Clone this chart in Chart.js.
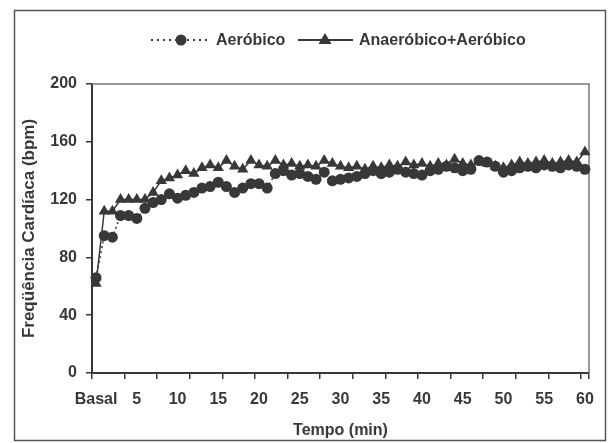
<!DOCTYPE html>
<html>
<head>
<meta charset="utf-8">
<script src="https://cdn.jsdelivr.net/npm/chart.js@4"></script>
<style>
body { margin: 0; background: #fff; }
#wrap { width: 611px; height: 443px; }
</style>
</head>
<body>
<div id="wrap"><canvas id="chart" width="611" height="443"></canvas></div>
<script>
// Categories: basal + minutes 1..60
const minutes = ['Basal',
  '1','2','3','4','5','6','7','8','9','10',
  '11','12','13','14','15','16','17','18','19','20',
  '21','22','23','24','25','26','27','28','29','30',
  '31','32','33','34','35','36','37','38','39','40',
  '41','42','43','44','45','46','47','48','49','50',
  '51','52','53','54','55','56','57','58','59','60'];

// Heart rate (bpm)
const aerobico = [66,
  95, 94, 109, 109, 107, 114, 118, 120, 124, 121,
  123, 125, 128, 129, 132, 129, 125, 128, 131, 131,
  128, 138, 140, 137, 138, 136, 134, 139, 133, 134,
  135, 136, 138, 140, 138, 139, 141, 139, 138, 137,
  140, 141, 143, 142, 140, 141, 147, 146, 143, 139,
  140, 142, 143, 142, 144, 143, 142, 144, 143, 141];

const anaerobicoAerobico = [62,
  112, 112, 120, 120, 120, 120, 125, 133, 135, 137,
  140, 138, 142, 144, 142, 147, 143, 141, 147, 144,
  143, 147, 144, 145, 143, 144, 143, 147, 145, 143,
  142, 143, 141, 143, 142, 144, 143, 146, 144, 145,
  143, 145, 144, 148, 145, 144, 146, 145, 143, 142,
  144, 146, 145, 146, 147, 145, 146, 147, 146, 153];

const yTicks = [0, 40, 80, 120, 160, 200];
// tick marks on the time axis fall every 4 categories (category boundaries)
const xTickMarks = [-0.5, 3.5, 7.5, 11.5, 15.5, 19.5, 23.5, 27.5, 31.5, 35.5, 39.5, 43.5, 47.5, 51.5, 55.5, 59.5, 60.5];

const ink = '#383838';
const fontFamily = '"Liberation Sans", Arial, sans-serif';

// White page with the printed frame around the figure
const framePlugin = {
    id: 'frame',
    beforeDraw(chart) {
        const ctx = chart.ctx;
        ctx.save();
        ctx.fillStyle = '#ffffff';
        ctx.fillRect(0, 0, chart.width, chart.height);
        ctx.strokeStyle = '#555';
        ctx.lineWidth = 1.5;
        ctx.strokeRect(14.5, 10.5, 591, 430);
        ctx.restore();
    },
    beforeDatasetsDraw(chart) {
        // top and right edges of the plot area
        const {ctx, chartArea: a} = chart;
        ctx.save();
        ctx.strokeStyle = '#777';
        ctx.lineWidth = 1.5;
        ctx.beginPath();
        ctx.moveTo(a.left, a.top);
        ctx.lineTo(a.right, a.top);
        ctx.lineTo(a.right, a.bottom);
        ctx.stroke();
        ctx.restore();
    }
};

// Legend with line sample + marker, like the original
const legendPlugin = {
    id: 'lineLegend',
    afterDraw(chart) {
        const ctx = chart.ctx;
        const y = 40;
        ctx.save();
        ctx.strokeStyle = ink;
        ctx.fillStyle = ink;
        ctx.lineWidth = 2;

        ctx.setLineDash([2, 4]);
        ctx.beginPath();
        ctx.moveTo(151, y);
        ctx.lineTo(208, y);
        ctx.stroke();
        ctx.setLineDash([]);
        ctx.beginPath();
        ctx.arc(181, y, 5.5, 0, Math.PI * 2);
        ctx.fill();

        ctx.beginPath();
        ctx.moveTo(298, y);
        ctx.lineTo(353, y);
        ctx.stroke();
        ctx.beginPath();
        ctx.moveTo(325, y - 7);
        ctx.lineTo(331.5, y + 4);
        ctx.lineTo(318.5, y + 4);
        ctx.closePath();
        ctx.fill();

        ctx.font = 'bold 16px ' + fontFamily;
        ctx.textBaseline = 'middle';
        ctx.textAlign = 'left';
        ctx.fillText('Aeróbico', 216, y + 1);
        ctx.fillText('Anaeróbico+Aeróbico', 359, y + 1);
        ctx.restore();
    }
};

const ctx = document.getElementById('chart').getContext('2d');
new Chart(ctx, {
    type: 'line',
    data: {
        labels: minutes,
        datasets: [
            {
                label: 'Aeróbico',
                data: aerobico,
                borderColor: ink,
                backgroundColor: ink,
                borderWidth: 1.5,
                borderDash: [2, 3],
                pointStyle: 'circle',
                pointRadius: 5.5,
                pointBorderWidth: 0,
                tension: 0
            },
            {
                label: 'Anaeróbico+Aeróbico',
                data: anaerobicoAerobico,
                borderColor: ink,
                backgroundColor: ink,
                borderWidth: 1.5,
                pointStyle: 'triangle',
                pointRadius: 6.5,
                pointBorderWidth: 0,
                tension: 0
            }
        ]
    },
    options: {
        responsive: false,
        animation: false,
        devicePixelRatio: 1,
        layout: { padding: { top: 84, right: 13, left: 0, bottom: 0 } },
        plugins: {
            legend: { display: false },
            tooltip: { enabled: false }
        },
        scales: {
            x: {
                type: 'category',
                position: 'bottom',
                weight: 1,
                offset: true,
                grid: { display: false, drawTicks: false },
                border: { display: false },
                ticks: {
                    autoSkip: false,
                    maxRotation: 0,
                    minRotation: 0,
                    padding: 17,
                    color: ink,
                    font: { family: fontFamily, size: 16, weight: 'bold' },
                    callback: (v, i) => (i % 5 === 0 ? minutes[i] : '')
                },
                title: {
                    display: true,
                    text: 'Tempo (min)',
                    color: ink,
                    font: { family: fontFamily, size: 16, weight: 'bold' },
                    padding: { top: 0, bottom: 3 }
                },
                afterFit: s => { s.height = 70; }
            },
            xt: {
                type: 'linear',
                position: 'bottom',
                weight: 0,
                min: -0.5,
                max: 60.5,
                afterBuildTicks: s => { s.ticks = xTickMarks.map(v => ({ value: v })); },
                ticks: { display: false },
                grid: { drawOnChartArea: false, tickLength: 6, color: ink, lineWidth: 1.5 },
                border: { display: true, color: ink, width: 2 },
                afterFit: s => { s.height = 0; }
            },
            y: {
                min: 0,
                max: 200,
                afterBuildTicks: s => { s.ticks = yTicks.map(v => ({ value: v })); },
                ticks: {
                    padding: 9,
                    color: ink,
                    font: { family: fontFamily, size: 16, weight: 'bold' }
                },
                grid: { drawOnChartArea: false, tickLength: 6, color: ink, lineWidth: 1.5 },
                border: { display: true, color: ink, width: 2 },
                title: {
                    display: true,
                    text: 'Freqüência Cardíaca (bpm)',
                    color: ink,
                    font: { family: fontFamily, size: 17, weight: 'bold' },
                    padding: { top: 19, bottom: 0 }
                },
                afterFit: s => { s.width = 92; }
            }
        }
    },
    plugins: [framePlugin, legendPlugin]
});
</script>
</body>
</html>
